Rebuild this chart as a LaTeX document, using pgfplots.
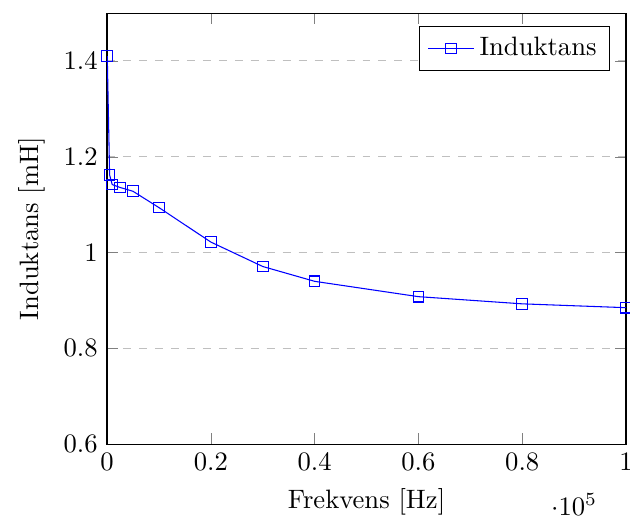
\documentclass[border=0pt]{standalone}
\usepackage{pgfplots}
\pgfplotsset{compat=1.18}
\begin{document}
\begin{tikzpicture}
\begin{axis}[
  xmin=0, xmax=100000,
  ymin=0.6, ymax=1.5,
  ytick={0.6,0.8,1,1.2,1.4},
  xlabel={Frekvens [Hz]},
  ylabel={Induktans [mH]},
  ymajorgrids=true,
  grid style={dashed, gray!50},
  legend pos=north east,
]
\addplot[blue, mark=square] coordinates {
(50,1.41) (500,1.162) (1000,1.142) (2500,1.136) (5000,1.128)
(10000,1.094) (20000,1.022) (30000,0.971) (40000,0.940)
(60000,0.908) (80000,0.893) (100000,0.885)
};
\addlegendentry{Induktans}
\coordinate (bl) at (rel axis cs:-0.2062,-0.1795);
\coordinate (tr) at (rel axis cs:1.0077,1.0303);
\end{axis}
\pgfresetboundingbox
\path[use as bounding box] (bl) rectangle (tr);
\end{tikzpicture}
\end{document}
